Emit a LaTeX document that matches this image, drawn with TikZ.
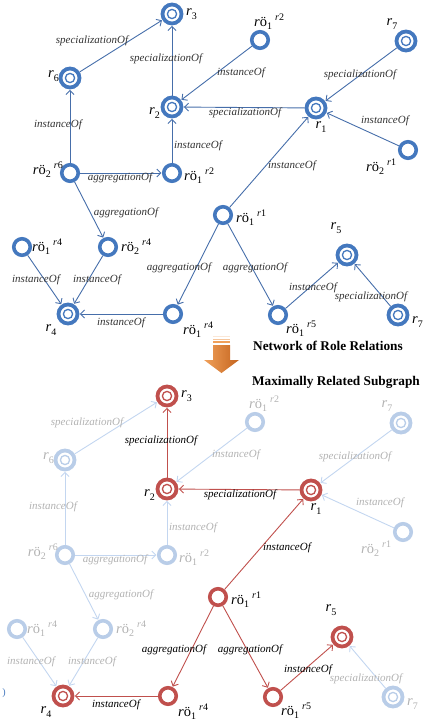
\documentclass[tikz,border=0pt]{standalone}
\usepackage{fontspec}
\setmainfont{Liberation Serif}
\usetikzlibrary{arrows.meta}

\definecolor{nb}{RGB}{68,120,190}
\definecolor{eb}{RGB}{70,110,170}
\definecolor{nl}{RGB}{185,205,232}
\definecolor{elc}{RGB}{195,214,240}
\definecolor{nr}{RGB}{192,80,77}
\definecolor{tl}{RGB}{178,178,178}
\definecolor{tb}{RGB}{50,50,50}
\definecolor{oa}{RGB}{240,160,90}
\definecolor{ob}{RGB}{196,100,30}

\newcommand\rlab[1]{\textit{r}\raisebox{-3.5pt}{\fontsize{10}{10}\selectfont #1}}
\newcommand\rvo[2]{\textit{r}ö\raisebox{-3.5pt}{\fontsize{10}{10}\selectfont #1}\hspace{3pt}\raisebox{5.5pt}{\fontsize{10}{10}\selectfont\textit{r}#2}}

\tikzset{
 sn/.style={circle, draw=#1, line width=3.6pt, minimum size=16.5pt, inner sep=0pt, fill=white},
 dn/.style={circle, draw=#1, line width=3.8pt, minimum size=19pt, inner sep=0pt, fill=white,
   path picture={\draw[#1, line width=1.3pt] (path picture bounding box.center) circle (4.6pt);}},
 ed/.style={draw=#1, line width=0.9pt, -{Straight Barb[length=4pt,width=8pt]}, shorten >=0.5pt},
 elab/.style={font=\fontsize{11}{12}\selectfont\itshape, text=#1, inner sep=0pt},
 nlab/.style={font=\fontsize{14.5}{16}\selectfont, text=#1, inner sep=0pt},
 ttl/.style={font=\fontsize{13.3}{15}\selectfont\bfseries, inner sep=0pt},
}

\begin{document}
\begin{tikzpicture}[x=1pt,y=-1pt]
\useasboundingbox (0,0) rectangle (431,722);

% ================= TOP: network of role relations =================
\node[dn=nb] (a-r3) at (172,14) {};
\node[dn=nb] (a-r6) at (70,78) {};
\node[dn=nb] (a-r2) at (172,107) {};
\node[sn=nb] (a-o12) at (260,40) {};
\node[dn=nb] (a-r7) at (406,41) {};
\node[dn=nb] (a-r1) at (316,108) {};
\node[sn=nb] (a-o21) at (408,150) {};
\node[sn=nb] (a-o26) at (70,173) {};
\node[sn=nb] (a-m12) at (172,173) {};
\node[sn=nb] (a-l14) at (22,247) {};
\node[sn=nb] (a-o24) at (108,247) {};
\node[dn=nb] (a-r4) at (68,314) {};
\node[sn=nb] (a-o14) at (173,314) {};
\node[sn=nb] (a-o11) at (223,215) {};
\node[dn=nb] (a-r5) at (347,255) {};
\node[sn=nb] (a-o15) at (278,315) {};
\node[dn=nb] (a-s7) at (398,315) {};

\node[nlab=black, anchor=west] (a-t-r3) at (186,14) {\rlab{3}};
\node[nlab=black, anchor=east] (a-t-r6) at (59,76) {\rlab{6}};
\node[nlab=black, anchor=east] (a-t-r2) at (160,113) {\rlab{2}};
\node[nlab=black, anchor=west] (a-t-o12) at (254,22) {\rvo{1}{2}};
\node[nlab=black] (a-t-r7) at (392,24) {\rlab{7}};
\node[nlab=black] (a-t-r1) at (321,127) {\rlab{1}};
\node[nlab=black, anchor=west] (a-t-o21) at (366,167) {\rvo{2}{1}};
\node[nlab=black, anchor=east] (a-t-o26) at (63,170) {\rvo{2}{6}};
\node[nlab=black, anchor=west] (a-t-m12) at (184,176) {\rvo{1}{2}};
\node[nlab=black, anchor=west] (a-t-l14) at (32,247) {\rvo{1}{4}};
\node[nlab=black, anchor=west] (a-t-o24) at (121,247) {\rvo{2}{4}};
\node[nlab=black] (a-t-r4) at (51,330) {\rlab{4}};
\node[nlab=black, anchor=west] (a-t-o14) at (183,330) {\rvo{1}{4}};
\node[nlab=black, anchor=west] (a-t-o11) at (236,218) {\rvo{1}{1}};
\node[nlab=black] (a-t-r5) at (336,228) {\rlab{5}};
\node[nlab=black, anchor=west] (a-t-o15) at (286,329) {\rvo{1}{5}};
\node[nlab=black, anchor=west] (a-t-s7) at (412,322) {\rlab{7}};

\draw[ed=eb] (a-r6) -- (a-r3);
\draw[ed=eb] (a-r2) -- (a-r3);
\draw[ed=eb] (a-o12) -- (a-r2);
\draw[ed=eb] (a-r1) -- (a-r2);
\draw[ed=eb] (a-r7) -- (a-r1);
\draw[ed=eb] (a-o21) -- (a-r1);
\draw[ed=eb] (a-o26) -- (a-r6);
\draw[ed=eb] (a-m12) -- (a-r2);
\draw[ed=eb] (a-o26) -- (a-m12);
\draw[ed=eb] (a-o26) -- (a-o24);
\draw[ed=eb] (a-o11) -- (a-r1);
\draw[ed=eb] (a-l14) -- (a-r4);
\draw[ed=eb] (a-o24) -- (a-r4);
\draw[ed=eb] (a-o14) -- (a-r4);
\draw[ed=eb] (a-o11) -- (a-o14);
\draw[ed=eb] (a-o11) -- (a-o15);
\draw[ed=eb] (a-o15) -- (a-r5);
\draw[ed=eb] (a-s7) -- (a-r5);

\node[elab=tb] (a-e1) at (92,41) {specializationOf};
\node[elab=tb] (a-e2) at (166,59) {specializationOf};
\node[elab=tb] (a-e3) at (241,73) {instanceOf};
\node[elab=tb] (a-e4) at (245,113) {specializationOf};
\node[elab=tb] (a-e5) at (360,75) {specializationOf};
\node[elab=tb] (a-e6) at (385,121) {instanceOf};
\node[elab=tb] (a-e7) at (58,125) {instanceOf};
\node[elab=tb] (a-e8) at (198,146) {instanceOf};
\node[elab=tb] (a-e9) at (120,178) {aggregationOf};
\node[elab=tb] (a-e10) at (126,213) {aggregationOf};
\node[elab=tb] (a-e11) at (292,166) {instanceOf};
\node[elab=tb] (a-e12) at (36,280) {instanceOf};
\node[elab=tb] (a-e13) at (97,280) {instanceOf};
\node[elab=tb] (a-e14) at (121,323) {instanceOf};
\node[elab=tb] (a-e15) at (179,268) {aggregationOf};
\node[elab=tb] (a-e16) at (255,268) {aggregationOf};
\node[elab=tb] (a-e17) at (313,288) {instanceOf};
\node[elab=tb] (a-e18) at (371,297) {specializationOf};

% ================= middle: arrow and titles =================
\fill[oa!25] (213,335.5) rectangle (230,336.5);
\fill[oa!60] (213,338.5) rectangle (230,340);
\fill[oa] (213,341) rectangle (230,342.5);
\shade[left color=oa, right color=ob]
  (213,345) -- (230,345) -- (230,360) -- (239,360) -- (221.5,373) -- (204,360) -- (213,360) -- cycle;
\node[ttl] (t1) at (328,346) {Network of Role Relations};
\node[ttl] (t2) at (336,382) {Maximally Related Subgraph};

% ================= BOTTOM: maximally related subgraph =================
\begin{scope}[shift={(-5,382)}]
\node[dn=nr] (b-r3) at (172,14) {};
\node[dn=nl] (b-r6) at (70,78) {};
\node[dn=nr] (b-r2) at (172,107) {};
\node[sn=nl] (b-o12) at (260,40) {};
\node[dn=nl] (b-r7) at (406,41) {};
\node[dn=nr] (b-r1) at (316,108) {};
\node[sn=nl] (b-o21) at (408,150) {};
\node[sn=nl] (b-o26) at (70,173) {};
\node[sn=nl] (b-m12) at (172,173) {};
\node[sn=nl] (b-l14) at (22,247) {};
\node[sn=nl] (b-o24) at (108,247) {};
\node[dn=nr] (b-r4) at (68,314) {};
\node[sn=nr] (b-o14) at (173,314) {};
\node[sn=nr] (b-o11) at (223,215) {};
\node[dn=nr] (b-r5) at (347,255) {};
\node[sn=nr] (b-o15) at (278,315) {};
\node[dn=nl] (b-s7) at (398,315) {};

\node[nlab=black, anchor=west] (b-t-r3) at (186,14) {\rlab{3}};
\node[nlab=tl, anchor=east] (b-t-r6) at (59,76) {\rlab{6}};
\node[nlab=black, anchor=east] (b-t-r2) at (160,113) {\rlab{2}};
\node[nlab=tl, anchor=west] (b-t-o12) at (254,22) {\rvo{1}{2}};
\node[nlab=tl] (b-t-r7) at (392,24) {\rlab{7}};
\node[nlab=black] (b-t-r1) at (321,127) {\rlab{1}};
\node[nlab=tl, anchor=west] (b-t-o21) at (366,167) {\rvo{2}{1}};
\node[nlab=tl, anchor=east] (b-t-o26) at (63,170) {\rvo{2}{6}};
\node[nlab=tl, anchor=west] (b-t-m12) at (184,176) {\rvo{1}{2}};
\node[nlab=tl, anchor=west] (b-t-l14) at (32,247) {\rvo{1}{4}};
\node[nlab=tl, anchor=west] (b-t-o24) at (121,247) {\rvo{2}{4}};
\node[nlab=black] (b-t-r4) at (51,330) {\rlab{4}};
\node[nlab=black, anchor=west] (b-t-o14) at (183,330) {\rvo{1}{4}};
\node[nlab=black, anchor=west] (b-t-o11) at (236,218) {\rvo{1}{1}};
\node[nlab=black] (b-t-r5) at (336,228) {\rlab{5}};
\node[nlab=black, anchor=west] (b-t-o15) at (286,329) {\rvo{1}{5}};
\node[nlab=tl, anchor=west] (b-t-s7) at (412,322) {\rlab{7}};

\draw[ed=elc] (b-r6) -- (b-r3);
\draw[ed=nr] (b-r2) -- (b-r3);
\draw[ed=elc] (b-o12) -- (b-r2);
\draw[ed=nr] (b-r1) -- (b-r2);
\draw[ed=elc] (b-r7) -- (b-r1);
\draw[ed=elc] (b-o21) -- (b-r1);
\draw[ed=elc] (b-o26) -- (b-r6);
\draw[ed=elc] (b-m12) -- (b-r2);
\draw[ed=elc] (b-o26) -- (b-m12);
\draw[ed=elc] (b-o26) -- (b-o24);
\draw[ed=nr] (b-o11) -- (b-r1);
\draw[ed=elc] (b-l14) -- (b-r4);
\draw[ed=elc] (b-o24) -- (b-r4);
\draw[ed=nr] (b-o14) -- (b-r4);
\draw[ed=nr] (b-o11) -- (b-o14);
\draw[ed=nr] (b-o11) -- (b-o15);
\draw[ed=nr] (b-o15) -- (b-r5);
\draw[ed=elc] (b-s7) -- (b-r5);

\node[elab=tl] (b-e1) at (92,41) {specializationOf};
\node[elab=black] (b-e2) at (166,59) {specializationOf};
\node[elab=tl] (b-e3) at (241,73) {instanceOf};
\node[elab=black] (b-e4) at (245,113) {specializationOf};
\node[elab=tl] (b-e5) at (360,75) {specializationOf};
\node[elab=tl] (b-e6) at (385,121) {instanceOf};
\node[elab=tl] (b-e7) at (58,125) {instanceOf};
\node[elab=tl] (b-e8) at (198,146) {instanceOf};
\node[elab=tl] (b-e9) at (120,178) {aggregationOf};
\node[elab=tl] (b-e10) at (126,213) {aggregationOf};
\node[elab=black] (b-e11) at (292,166) {instanceOf};
\node[elab=tl] (b-e12) at (36,280) {instanceOf};
\node[elab=tl] (b-e13) at (97,280) {instanceOf};
\node[elab=black] (b-e14) at (121,323) {instanceOf};
\node[elab=black] (b-e15) at (179,268) {aggregationOf};
\node[elab=black] (b-e16) at (255,268) {aggregationOf};
\node[elab=black] (b-e17) at (313,288) {instanceOf};
\node[elab=tl] (b-e18) at (371,297) {specializationOf};
\end{scope}

\node[font=\fontsize{10}{10}\selectfont, text=nb, inner sep=0pt] (paren) at (4,693) {)};
\end{tikzpicture}
\end{document}
